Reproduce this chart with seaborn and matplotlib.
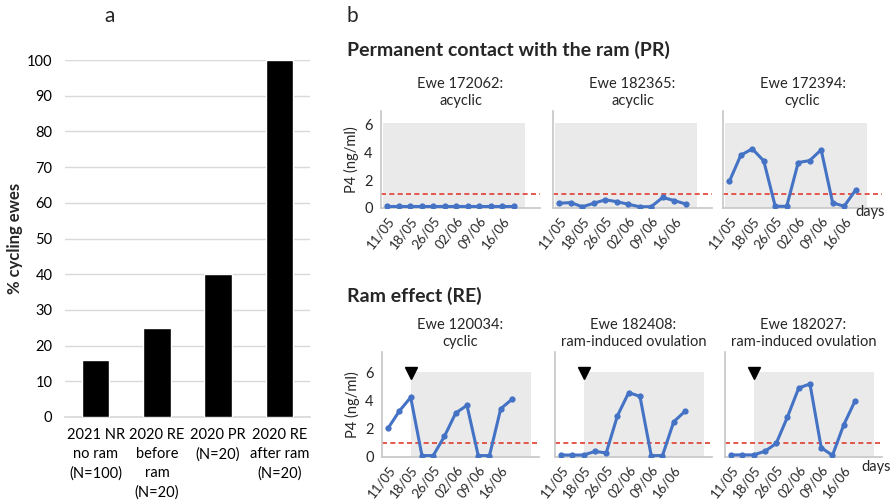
import matplotlib
matplotlib.use("Agg")
import matplotlib.pyplot as plt
import seaborn as sns
import numpy as np
import pandas as pd

# ---------------- data ----------------
bar_labels = ["2021 NR\nno ram\n(N=100)", "2020 RE\nbefore\nram\n(N=20)", "2020 PR\n(N=20)", "2020 RE\nafter ram\n(N=20)"]
bar_values = [16, 25, 40, 100]

date_labels = ["11/05", "18/05", "26/05", "02/06", "09/06", "16/06"]

pr_titles = ["Ewe 172062:\nacyclic", "Ewe 182365:\nacyclic", "Ewe 172394:\ncyclic"]
ewe_172062 = [0.1, 0.1, 0.1, 0.1, 0.1, 0.1, 0.1, 0.1, 0.1, 0.1, 0.1, 0.1]
ewe_182365 = [0.32, 0.37, 0.07, 0.32, 0.57, 0.44, 0.25, 0.07, 0.07, 0.74, 0.52, 0.27]
ewe_172394 = [1.9, 3.8, 4.26, 3.39, 0.1, 0.1, 3.27, 3.41, 4.19, 0.36, 0.1, 1.28]

re_titles = ["Ewe 120034:\ncyclic", "Ewe 182408:\nram-induced ovulation", "Ewe 182027:\nram-induced ovulation"]
ewe_120034 = [2.07, 3.29, 4.26, 0.1, 0.1, 1.48, 3.14, 3.69, 0.1, 0.1, 3.45, 4.12]
ewe_182408 = [0.14, 0.14, 0.14, 0.4, 0.29, 2.95, 4.6, 4.33, 0.1, 0.1, 2.52, 3.26]
ewe_182027 = [0.15, 0.15, 0.15, 0.41, 0.97, 2.86, 4.93, 5.22, 0.66, 0.12, 2.3, 4.0]

threshold = 1.0
ram_intro_index = 2

# ---------------- style ----------------
sns.set_theme(style="white")
plt.rcParams["font.family"] = ["Lato", "DejaVu Sans"]

BLUE = "#4472C4"
RED = "#E03C31"
SHADE = "#EAEAEA"
SPINE = "#C8C8C8"
TXT = "#000000"

W, H = 893, 500
fig = plt.figure(figsize=(W / 100, H / 100), dpi=100)


def ax_at(x0, y0, x1, y1):
    return fig.add_axes([x0 / W, 1 - y1 / H, (x1 - x0) / W, (y1 - y0) / H])


# ---------------- panel a ----------------
axa = ax_at(65, 60, 310, 417)
df_a = pd.DataFrame({"group": bar_labels, "pct": bar_values})
sns.barplot(data=df_a, x="group", y="pct", color="black", width=0.45, ax=axa,
            saturation=1, zorder=3)
axa.set_ylim(0, 100)
axa.set_xlim(-0.5, 3.5)
axa.set_yticks(range(0, 101, 10))
axa.yaxis.grid(True, color="#D9D9D9", linewidth=1, zorder=0)
axa.set_axisbelow(True)
for s in ["top", "right", "left"]:
    axa.spines[s].set_visible(False)
axa.spines["bottom"].set_color("#D9D9D9")
axa.tick_params(axis="both", length=0, labelsize=10.5, colors=TXT)
axa.tick_params(axis="y", pad=9)
axa.tick_params(axis="x", pad=8)
for lab in axa.get_xticklabels():
    lab.set_linespacing(1.45)
axa.set_xlabel("")
axa.set_ylabel("% cycling ewes", fontsize=12, fontweight="bold")
axa.yaxis.set_label_coords((23 - 65) / 245, 0.5)

fig.text(110 / W, 1 - 16 / H, "a", fontsize=15, ha="center", va="center")
fig.text(352 / W, 1 - 16 / H, "b", fontsize=15, ha="center", va="center")
fig.text(347 / W, 1 - 50 / H, "Permanent contact with the ram (PR)", fontsize=14,
         fontweight="bold", ha="left", va="center")
fig.text(347 / W, 1 - 296 / H, "Ram effect (RE)", fontsize=14,
         fontweight="bold", ha="left", va="center")


def small_panel(ax, values, title, ylim_top, shade_x0, shade_x1, shade_top,
                xmax, show_ylabel, arrow):
    idx = np.arange(len(values))
    ax.add_patch(plt.Rectangle((shade_x0, 0), shade_x1 - shade_x0, shade_top,
                               facecolor=SHADE, edgecolor="none", zorder=0))
    ax.axhline(threshold, color=RED, linestyle=(0, (3, 2)), linewidth=1.2, zorder=2)
    sns.lineplot(x=idx, y=values, ax=ax, color=BLUE, marker="o", markersize=4.5,
                 markeredgewidth=0, linewidth=2.2, zorder=3)
    if arrow:
        ax.plot([ram_intro_index], [shade_top - 0.05], marker="v", color="black",
                markersize=8, linestyle="none", zorder=4, clip_on=False)
    ax.set_xlim(-0.55, xmax)
    ax.set_ylim(0, ylim_top)
    ax.set_xticks(range(0, 12, 2))
    ax.set_xticklabels(date_labels, rotation=52, ha="right", rotation_mode="anchor",
                       fontsize=9.5)
    ax.set_yticks([0, 2, 4, 6])
    for s in ["top", "right"]:
        ax.spines[s].set_visible(False)
    ax.spines["left"].set_color(SPINE)
    ax.spines["bottom"].set_color(SPINE)
    ax.tick_params(axis="x", length=3, color=SPINE, pad=2)
    ax.tick_params(axis="y", length=3, color=SPINE, labelsize=10.5, pad=3)
    ax.set_facecolor("none")
    if show_ylabel:
        ax.set_ylabel("P4 (ng/ml)", fontsize=10.5, labelpad=4)
    else:
        ax.set_ylabel("")
        ax.set_yticklabels([])
    ax.set_xlabel("")
    ax.set_title(title, fontsize=10.5, pad=4, linespacing=1.35)


# ---------------- panel b, top row ----------------
top_vals = [ewe_172062, ewe_182365, ewe_172394]
top_x = [381, 553, 723]
for i, (vals, title, x0) in enumerate(zip(top_vals, pr_titles, top_x)):
    ax = ax_at(x0, 111, x0 + 159, 207.7)
    small_panel(ax, vals, title, 7, -0.4, 11.95, 6.15, 13.3, i == 0, False)

# ---------------- panel b, bottom row ----------------
bot_vals = [ewe_120034, ewe_182408, ewe_182027]
bot_x = [382, 555, 725]
for i, (vals, title, x0) in enumerate(zip(bot_vals, re_titles, bot_x)):
    ax = ax_at(x0, 352, x0 + 157, 457)
    small_panel(ax, vals, title, 7.5, ram_intro_index, 12.65, 6.07, 13.4, i == 0, True)

fig.text(870 / W, 1 - 212 / H, "days", fontsize=10.5, ha="center", va="center")
fig.text(876 / W, 1 - 467 / H, "days", fontsize=10.5, ha="center", va="center")

fig.savefig("out.png", dpi=100)
